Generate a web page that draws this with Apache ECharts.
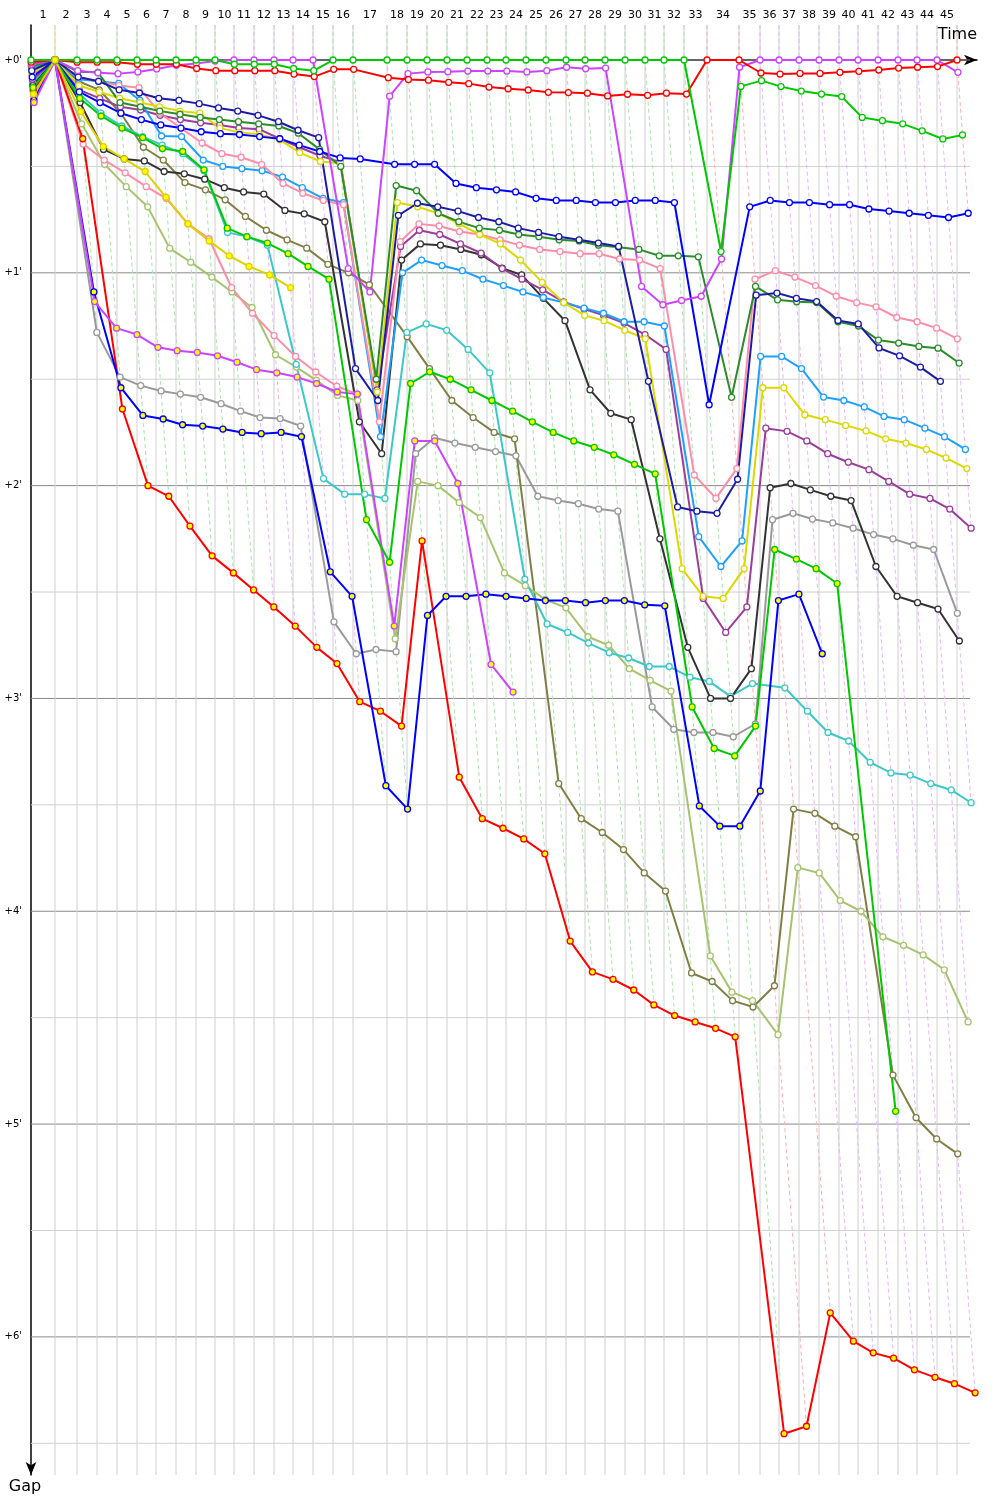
<!DOCTYPE html>
<html>
<head>
<meta charset="utf-8">
<script src="https://cdn.jsdelivr.net/npm/echarts@6/dist/echarts.min.js"></script>
<style>body{margin:0;background:#fff}#chart{width:1000px;height:1500px}</style>
</head>
<body>
<div id="chart"></div>
<script>
var chart = echarts.init(document.getElementById('chart'));

// leader's lap completion times in minutes, lap 0..45
var leaderTimes = [0, 1.548, 2.968, 4.258, 5.548, 6.839, 8.065, 9.355, 10.645, 11.871,
  13.097, 14.387, 15.677, 16.903, 18.194, 19.484, 20.774, 22.968, 24.258, 25.548,
  26.839, 28.129, 29.419, 30.645, 31.935, 33.226, 34.516, 35.742, 37.032, 38.323,
  39.613, 40.839, 42.129, 43.613, 45.677, 47.032, 48.258, 49.548, 50.839, 52.129,
  53.355, 54.645, 55.935, 57.161, 58.452, 59.742];

// who leads each lap (index 1..45)
var lapLeader = [null, 'yellow',
  'green', 'green', 'green', 'green', 'green', 'green', 'green', 'green',
  'violet', 'violet', 'violet', 'violet', 'violet',
  'green', 'green', 'green', 'green', 'green', 'green', 'green', 'green', 'green',
  'green', 'green', 'green', 'green', 'green', 'green', 'green', 'green', 'green',
  'red', 'red',
  'violet', 'violet', 'violet', 'violet', 'violet', 'violet', 'violet', 'violet', 'violet', 'violet',
  'red'];

var lapLabels = [];
for (var i = 1; i <= 45; i++) lapLabels.push(String(i));

var gapRules = [0, 0.5, 1, 1.5, 2, 2.5, 3, 3.5, 4, 4.5, 5, 5.5, 6, 6.5];

// gap to leader (minutes) at the end of laps 0..45
var gapGreen = [0, 0, 0,0,0,0,0,0,0,0, .02,.02,.02,.04,.05, 0,0,0,0,0,0,0,0,0,0,0,0,0,0,0,0,0,0,
  .90,.124,.097,.125,.146,.16,.172,.27,.285,.30,.333,.371,.352];
var gapRed = [.01, 0, .01,.01,.01,.02,.02,.02,.04,.05, .05,.05,.05,.066,.078,
  .044,.044,.083,.092,.095,.105,.111,.127,.135,.141,.152,.153,.156,.169,.161,.166,.156,.16,
  0,0,.061,.066,.063,.063,.058,.053,.047,.038,.034,.031,0];
var gapViolet = [.02, 0, .05,.06,.064,.056,.042,.025,.016,.005, 0,0,0,0,0,
  .98,1.09,.17,.064,.056,.055,.052,.052,.052,.056,.05,.034,.041,.038,1.064,1.15,1.13,1.11,
  .935,.034,0,0,0,0,0,0,0,0,0,0,.058];
var gapBlue = [.08, 0, .15,.20,.25,.28,.305,.32,.337,.346, .35,.36,.37,.40,.43,
  .46,.465,.49,.49,.49,.58,.60,.61,.62,.65,.66,.66,.67,.67,.66,.66,.67,1.62,
  null,.69,.66,.67,.67,.68,.68,.70,.71,.72,.73,.74,.72];
var gapNavy = [.05, 0, .08,.10,.14,.155,.18,.19,.205,.225, .24,.26,.29,.33,.365,
  1.45,1.60,.73,.673,.69,.71,.74,.76,.79,.81,.83,.845,.86,.876,1.51,2.10,2.12,2.13,
  1.97,1.105,1.095,1.12,1.135,1.224,1.24,1.353,1.39,1.443,1.51,null,null];
var gapDarkGreen = [.03, 0, .055,.058,.20,.22,.24,.255,.27,.28, .29,.30,.31,.344,.42,
  .50,1.5,.59,.614,.72,.76,.79,.80,.82,.83,.845,.85,.87,.88,.89,.92,.92,.925,
  1.585,1.064,1.127,1.136,1.14,1.23,1.25,1.316,1.33,1.346,1.354,1.424,null];
var gapYellow = [.06, 0, .12,.15,.18,.20,.22,.24,.25,.32, .34,.35,.375,.435,.477,
  .485,1.56,.67,.69,.72,.77,.82,.864,.94,1.045,1.14,1.20,1.225,1.27,1.31,2.39,2.52,2.53,
  2.39,1.54,1.54,1.667,1.69,1.717,1.743,1.78,1.80,1.83,1.87,1.92,null];
var gapPink = [.07, 0, .08,.10,.12,.13,.25,.32,.39,.44, .457,.49,.58,.626,.66,
  .68,1.70,.853,.77,.78,.806,.82,.845,.87,.89,.90,.91,.91,.935,.94,.98,1.95,2.06,
  1.92,1.03,.99,1.02,1.06,1.11,1.14,1.16,1.21,1.23,1.26,1.31,null];
var gapPurple = [.09, 0, .14,.18,.22,.235,.26,.28,.295,.305, .32,.325,.37,.41,.45,
  .48,1.55,.876,.80,.82,.864,.907,.98,1.03,1.08,1.137,1.17,1.20,1.236,1.29,1.36,2.53,2.69,
  2.57,1.73,1.745,1.79,1.85,1.89,1.925,1.98,2.04,2.06,2.11,2.2,null];
var gapLightBlue = [.04, 0, .09,.10,.11,.19,.357,.36,.47,.50, .51,.52,.55,.60,.65,
  .67,1.77,1.0,.94,.966,.99,1.03,1.06,1.09,1.116,1.14,1.166,1.19,1.23,1.23,1.25,2.24,2.38,
  2.26,1.393,1.393,1.45,1.584,1.60,1.63,1.675,1.69,1.73,1.77,1.83,null];
var gapBlack = [.12, 0, .2,.42,.465,.474,.524,.535,.56,.60, .62,.63,.707,.723,.76,
  1.7,1.85,.94,.864,.87,.89,.915,.978,1.01,1.12,1.225,1.55,1.66,1.69,2.25,2.76,3.0,3.0,
  2.86,2.01,1.99,2.02,2.05,2.07,2.38,2.52,2.55,2.58,2.73,null,null];
var gapGrey = [.18, 0, 1.28,1.49,1.53,1.555,1.57,1.585,1.615,1.65, 1.68,1.685,1.72,2.64,2.79,
  2.77,2.78,1.85,1.775,1.80,1.82,1.84,1.86,2.05,2.07,2.085,2.11,2.12,3.04,3.145,3.16,3.16,3.18,
  3.12,2.16,2.13,2.157,2.175,2.2,2.23,2.25,2.28,2.30,2.60,null,null];
var gapOlive = [.1, 0, .10,.14,.25,.41,.47,.576,.61,.657, .735,.80,.845,.884,.96,
  1.0,1.056,1.3,1.45,1.6,1.68,1.75,1.78,3.40,3.565,3.63,3.71,3.82,3.905,4.29,4.33,4.42,4.45,
  4.35,3.52,3.54,3.60,3.65,4.77,4.97,5.07,5.14,null,null,null,null];
var gapLightOlive = [.15, 0, .3,.49,.595,.69,.885,.95,1.02,1.09, 1.163,1.385,1.443,1.505,1.576,
  1.6,2.72,1.98,2.0,2.08,2.15,2.41,2.47,2.535,2.574,2.71,2.75,2.86,2.915,2.966,4.21,4.38,4.42,
  4.58,3.795,3.82,3.95,4.0,4.12,4.16,4.205,4.275,4.52,null,null,null];
var gapCyan = [.11, 0, .16,.25,.31,.36,.40,.44,.52,.81, .83,.87,1.43,1.967,2.04,
  2.04,2.06,1.28,1.24,1.27,1.36,1.47,2.44,2.65,2.69,2.74,2.785,2.81,2.85,2.85,2.9,2.92,2.99,
  2.93,2.95,3.06,3.16,3.2,3.3,3.35,3.36,3.4,3.43,3.49,null,null];
var gapGreen2 = [.13, 0, .18,.263,.32,.365,.416,.43,.516,.79, .83,.86,.91,.97,1.03,
  2.16,2.36,1.52,1.465,1.50,1.55,1.60,1.65,1.70,1.75,1.79,1.82,1.855,1.90,1.945,3.04,3.235,3.27,
  3.13,2.30,2.345,2.39,2.46,4.94];
var gapRed2 = [.14, 0, .37,1.64,2.0,2.05,2.19,2.33,2.41,2.49, 2.57,2.66,2.76,2.836,3.015,
  3.06,3.13,2.26,3.37,3.565,3.61,3.66,3.73,4.14,4.285,4.32,4.37,4.44,4.49,4.52,4.55,4.59,6.455,
  6.42,5.887,6.02,6.075,6.10,6.155,6.19,6.22,6.263];
var gapBlue2 = [.19, 0, 1.09,1.54,1.67,1.687,1.714,1.72,1.734,1.75, 1.756,1.75,1.77,2.405,2.52,
  3.41,3.52,2.61,2.52,2.52,2.51,2.52,2.53,2.54,2.54,2.55,2.54,2.54,2.56,2.565,3.505,3.60,3.60,
  3.435,2.54,2.51,2.79];
var gapViolet2 = [.2, 0, 1.135,1.26,1.29,1.35,1.366,1.374,1.39,1.42, 1.455,1.47,1.49,1.52,1.56,
  1.57,2.66,1.79,1.79,1.99,2.84,2.97];
var gapPink2 = [.17, 0, .395,.47,.53,.595,.65,.77,.84,1.07, 1.19,1.295,1.393,1.466,1.533, 1.57];
var gapYellow2 = [.16, 0, .243,.407,.465,.524,.645,.77,.85,.92, .97,1.01,1.07];

var drivers = [
  { gaps: gapGrey, color: '#9a9a9a', fill: '#fff' },
  { gaps: gapOlive, color: '#7f7f45', fill: '#fff' },
  { gaps: gapLightOlive, color: '#a6c46e', fill: '#fff' },
  { gaps: gapCyan, color: '#3cc8c8', fill: '#fff' },
  { gaps: gapBlack, color: '#333333', fill: '#fff' },
  { gaps: gapPurple, color: '#9b3d9b', fill: '#fff' },
  { gaps: gapLightBlue, color: '#1ea0ff', fill: '#fff' },
  { gaps: gapPink, color: '#ff8ca8', fill: '#fff' },
  { gaps: gapYellow, color: '#dcd800', fill: '#fff' },
  { gaps: gapDarkGreen, color: '#2b8c2b', fill: '#fff' },
  { gaps: gapNavy, color: '#1c1ca6', fill: '#fff' },
  { gaps: gapBlue, color: '#0000ff', fill: '#fff' },
  { gaps: gapPink2, color: '#ff8ca8', fill: '#fff' },
  { gaps: gapRed2, color: '#ff0000', fill: '#ffff00' },
  { gaps: gapBlue2, color: '#0000ff', fill: '#ffff00' },
  { gaps: gapViolet2, color: '#cc44ff', fill: '#ffff00' },
  { gaps: gapGreen2, color: '#00c800', fill: '#ffff00' },
  { gaps: gapViolet, color: '#cc44ff', fill: '#fff' },
  { gaps: gapRed, color: '#ff0000', fill: '#fff' },
  { gaps: gapGreen, color: '#00c800', fill: '#fff' },
  { gaps: gapYellow2, color: '#e0d000', fill: '#ffff00' }
];

var leaderDash = { yellow: '#eedd80', green: '#a8e6a8', violet: '#e8b6ff', red: '#ffb0b0' };
var gapMin = -0.1645, gapMax = 6.649, timeMax = 61.03, ruleEnd = 60.58;

function toPoints(gaps) {
  var pts = [];
  gaps.forEach(function (g, lap) {
    if (g !== null && g !== undefined) pts.push([leaderTimes[lap] + g, g]);
  });
  return pts;
}

// deepest gap reached on each lap: the dashed lap line runs down to it
var deepest = [];
for (var n = 0; n <= 45; n++) {
  var m = 0;
  drivers.forEach(function (d) { var g = d.gaps[n]; if (g != null && g > m) m = g; });
  deepest.push(m);
}

var lapItems = [];
for (var n = 1; n <= 45; n++) lapItems.push([n, 0]);
var ruleItems = gapRules.map(function (g) { return [0, g]; });

var font = '"DejaVu Sans", Verdana, sans-serif';

var series = [
  {
    type: 'custom', z: 1, silent: true, animation: false,
    data: ruleItems,
    renderItem: function (params, api) {
      var g = api.value(1);
      var a = api.coord([0, g]), b = api.coord([ruleEnd, g]);
      var whole = Math.abs(g - Math.round(g)) < 1e-6;
      var kids = [{
        type: 'line', shape: { x1: a[0], y1: a[1], x2: b[0], y2: b[1] },
        style: { stroke: whole ? '#8a8a8a' : '#d0d0d0', lineWidth: 1 }
      }];
      if (whole) kids.push({
        type: 'text',
        style: { text: '+' + Math.round(g) + '\'', x: a[0] - 9, y: a[1], fill: '#000',
          font: '10px ' + font, align: 'right', verticalAlign: 'middle' }
      });
      return { type: 'group', children: kids };
    }
  },
  {
    type: 'custom', z: 2, silent: true, animation: false,
    data: lapItems,
    renderItem: function (params, api) {
      var n = api.value(0);
      var t = leaderTimes[n], G = deepest[n];
      var top = api.coord([t, gapMin]), bot = api.coord([t, gapMax]);
      var zero = api.coord([t, 0]), end = api.coord([t + G, G]);
      var mid = api.coord([(leaderTimes[n - 1] + t) / 2, gapMin]);
      return { type: 'group', children: [
        { type: 'line', shape: { x1: top[0], y1: top[1], x2: bot[0], y2: bot[1] },
          style: { stroke: '#d0d0d0', lineWidth: 1 } },
        { type: 'polyline', shape: { points: [top, zero, end] },
          style: { stroke: leaderDash[lapLeader[n]], lineWidth: 1, lineDash: [4, 3], fill: null } },
        { type: 'text', style: { text: lapLabels[n - 1], x: mid[0], y: mid[1] - 10, fill: '#000',
          font: '11px ' + font, align: 'center', verticalAlign: 'middle' } }
      ] };
    }
  },
  {
    // axis titles
    type: 'custom', z: 5, silent: true, animation: false,
    data: [[0, 0]],
    renderItem: function (params, api) {
      var tEnd = api.coord([timeMax, gapMin]);
      var gEnd = api.coord([0, gapMax]);
      return { type: 'group', children: [
        { type: 'text', style: { text: 'Time', x: tEnd[0], y: tEnd[1] + 10, fill: '#000',
          font: '16px ' + font, align: 'right', verticalAlign: 'middle' } },
        { type: 'text', style: { text: 'Gap', x: gEnd[0] - 6, y: gEnd[1] + 12, fill: '#000',
          font: '16px ' + font, align: 'center', verticalAlign: 'middle' } }
      ] };
    }
  }
];

drivers.forEach(function (d) {
  series.push({
    type: 'line', z: 3, animation: false, silent: true,
    data: toPoints(d.gaps),
    symbol: 'circle', symbolSize: 6, showAllSymbol: true,
    lineStyle: { color: d.color, width: 2 },
    itemStyle: { color: d.fill, borderColor: d.color, borderWidth: 1.3 }
  });
});

chart.setOption({
  animation: false,
  backgroundColor: '#fff',
  grid: { left: 31, right: 23, top: 25, bottom: 25 },
  xAxis: {
    type: 'value', position: 'top', min: 0, max: timeMax,
    axisLine: { show: true, symbol: ['none', 'arrow'], symbolSize: [8, 13], lineStyle: { color: '#000', width: 1.5 } },
    axisTick: { show: false }, axisLabel: { show: false }, splitLine: { show: false }
  },
  yAxis: {
    type: 'value', inverse: true, min: gapMin, max: gapMax,
    axisLine: { show: true, onZero: false, symbol: ['arrow', 'none'], symbolSize: [8, 13], lineStyle: { color: '#000', width: 1.5 } },
    axisTick: { show: false }, axisLabel: { show: false }, splitLine: { show: false }
  },
  series: series
});
</script>
</body>
</html>
